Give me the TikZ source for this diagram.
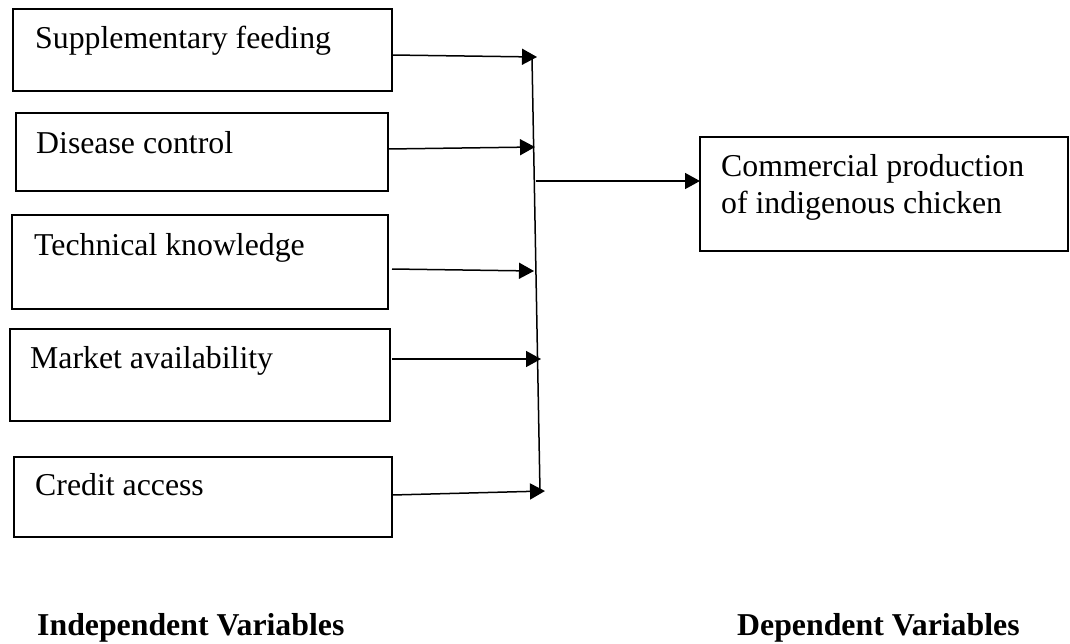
\documentclass[tikz,border=0pt]{standalone}
\usepackage{fontspec}
\setmainfont{Liberation Serif}
\usetikzlibrary{arrows.meta}
\tikzset{
  box/.style={draw, line width=1.5pt, inner sep=0pt, outer sep=0pt, anchor=north west},
  txt/.style={anchor=base west, inner sep=0pt, font=\fontsize{31.8}{36.6}\selectfont},
  ttl/.style={anchor=base west, inner sep=0pt, font=\fontsize{31.8}{36.6}\selectfont\bfseries},
  conn/.style={line width=1.5pt},
  arr/.style={line width=1.5pt, -{Triangle[length=15pt,width=16pt]}}
}
\begin{document}
\begin{tikzpicture}[x=1pt,y=-1pt]
\useasboundingbox (0,0) rectangle (1070,643);
% left boxes
\node[box, minimum width=379, minimum height=82] (b1) at (13,9) {};
\node[box, minimum width=372, minimum height=78] (b2) at (16,113) {};
\node[box, minimum width=376, minimum height=94] (b3) at (12,215) {};
\node[box, minimum width=380, minimum height=92] (b4) at (10,329) {};
\node[box, minimum width=378, minimum height=80] (b5) at (14,457) {};
% right box
\node[box, minimum width=368, minimum height=114] (bR) at (700,137) {};
% texts
\node[txt] (t1) at (35,48) {Supplementary feeding};
\node[txt] (t2) at (36,153) {Disease control};
\node[txt] (t3) at (34,255) {Technical knowledge};
\node[txt] (t4) at (30,368) {Market availability};
\node[txt] (t5) at (35,495) {Credit access};
\node[txt] (tR1) at (721,176) {Commercial production};
\node[txt] (tR2) at (721,213) {of indigenous chicken};
\node[ttl] (l1) at (37,635) {Independent Variables};
\node[ttl] (l2) at (737,635) {Dependent Variables};
% connector coordinates
\coordinate (s1) at (392,55);  \coordinate (e1) at (537,57);
\coordinate (s2) at (388,149); \coordinate (e2) at (535,147);
\coordinate (s3) at (392,269); \coordinate (e3) at (534,271);
\coordinate (s4) at (392,359); \coordinate (e4) at (541,359);
\coordinate (s5) at (392,495); \coordinate (e5) at (545,491);
\coordinate (vt) at (532,58);  \coordinate (vb) at (540,492);
\coordinate (m) at (536,181);
% connectors
\draw[arr] (s1) -- (e1);
\draw[arr] (s2) -- (e2);
\draw[arr] (s3) -- (e3);
\draw[arr] (s4) -- (e4);
\draw[arr] (s5) -- (e5);
\draw[conn] (vt) -- (vb);
\draw[arr] (m) -- (m -| bR.west);
\end{tikzpicture}
\end{document}
